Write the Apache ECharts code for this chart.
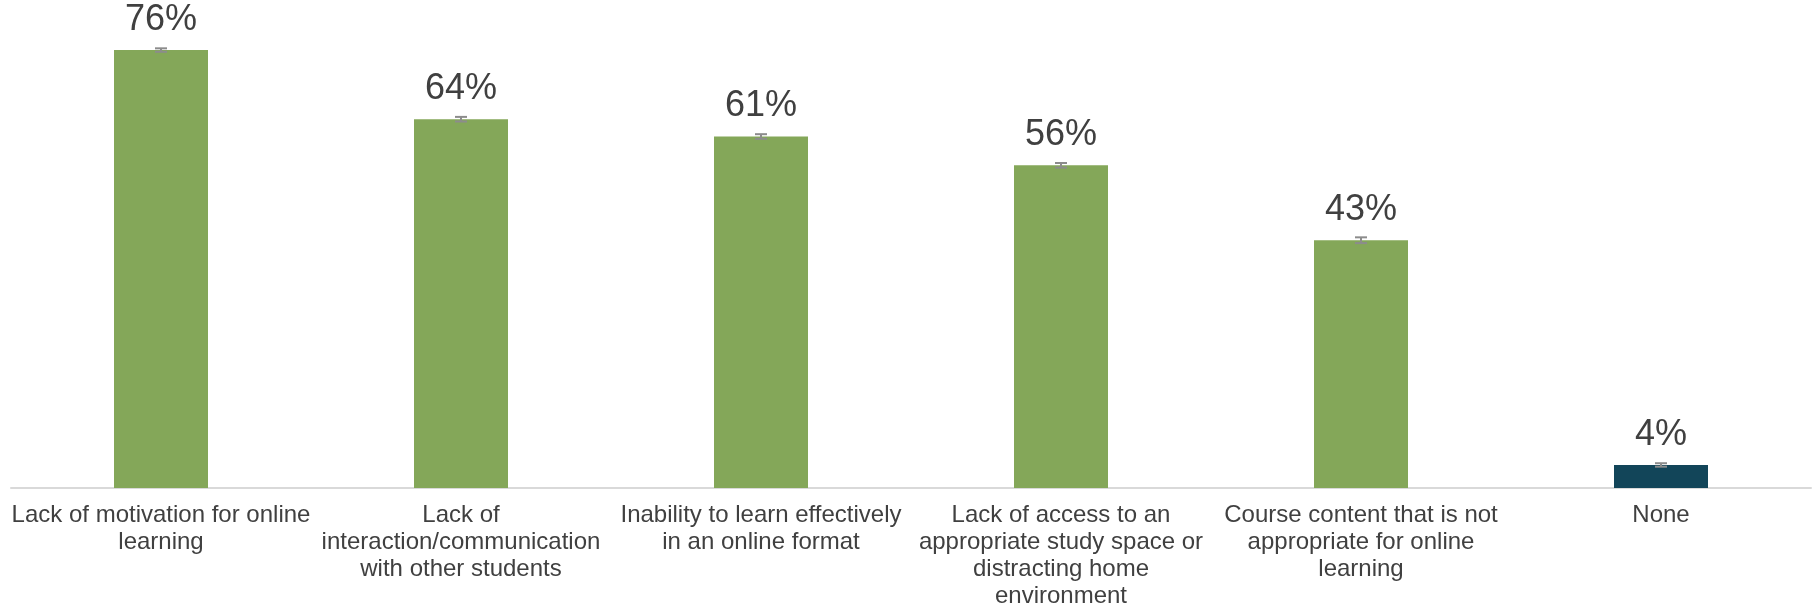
<!DOCTYPE html>
<html>
<head>
<meta charset="utf-8">
<style>
  html, body { margin: 0; padding: 0; background: #ffffff; }
  #chart { width: 1814px; height: 611px; }
</style>
<script src="https://cdn.jsdelivr.net/npm/echarts@6/dist/echarts.min.js"></script>
</head>
<body>
<div id="chart"></div>
<script>
// Barriers to online learning (share of respondents, %)
const categories = [
  'Lack of motivation for online\nlearning',
  'Lack of\ninteraction/communication\nwith other students',
  'Inability to learn effectively\nin an online format',
  'Lack of access to an\nappropriate study space or\ndistracting home\nenvironment',
  'Course content that is not\nappropriate for online\nlearning',
  'None'
];
const shares = [76, 64, 61, 56, 43, 4];
// Half-width of the small error bar drawn on top of each bar (percentage points)
const errorMargins = [0.3, 0.4, 0.4, 0.4, 0.5, 0.3];

const GREEN = '#84a759';
const NAVY = '#124559';
const TEXT = '#404040';
const FONT = '"Liberation Sans", Arial, sans-serif';

const chart = echarts.init(document.getElementById('chart'), null, { renderer: 'canvas' });

chart.setOption({
  animation: false,
  backgroundColor: '#ffffff',
  grid: { left: 11, right: 3, top: 27, bottom: 123, containLabel: false },
  xAxis: {
    type: 'category',
    data: categories,
    axisLine: { show: true, lineStyle: { color: '#d9d9d9', width: 2 } },
    axisTick: { show: false },
    axisLabel: {
      interval: 0,
      margin: 14,
      color: TEXT,
      fontFamily: FONT,
      fontSize: 24,
      lineHeight: 27,
      align: 'center'
    }
  },
  yAxis: {
    type: 'value',
    min: 0,
    max: 80,
    show: false,
    splitLine: { show: false }
  },
  series: [
    {
      type: 'bar',
      data: shares.map((v, i) => ({
        value: v,
        itemStyle: { color: i === shares.length - 1 ? NAVY : GREEN }
      })),
      barWidth: 94,
      label: {
        show: true,
        position: 'top',
        distance: 12,
        formatter: p => p.value + '%',
        color: TEXT,
        fontFamily: FONT,
        fontSize: 36
      },
      z: 2
    },
    {
      type: 'custom',
      data: shares.map((v, i) => [i, v - errorMargins[i], v + errorMargins[i]]),
      renderItem: function (params, api) {
        const x = api.coord([api.value(0), 0])[0];
        const lo = api.coord([api.value(0), api.value(1)])[1];
        const hi = api.coord([api.value(0), api.value(2)])[1];
        const half = 6;
        const style = { stroke: '#8c8c8c', lineWidth: 2 };
        return {
          type: 'group',
          children: [
            { type: 'line', shape: { x1: x, y1: lo, x2: x, y2: hi }, style },
            { type: 'line', shape: { x1: x - half, y1: hi, x2: x + half, y2: hi }, style },
            { type: 'line', shape: { x1: x - half, y1: lo, x2: x + half, y2: lo }, style }
          ]
        };
      },
      z: 3,
      silent: true
    }
  ]
});
</script>
</body>
</html>
